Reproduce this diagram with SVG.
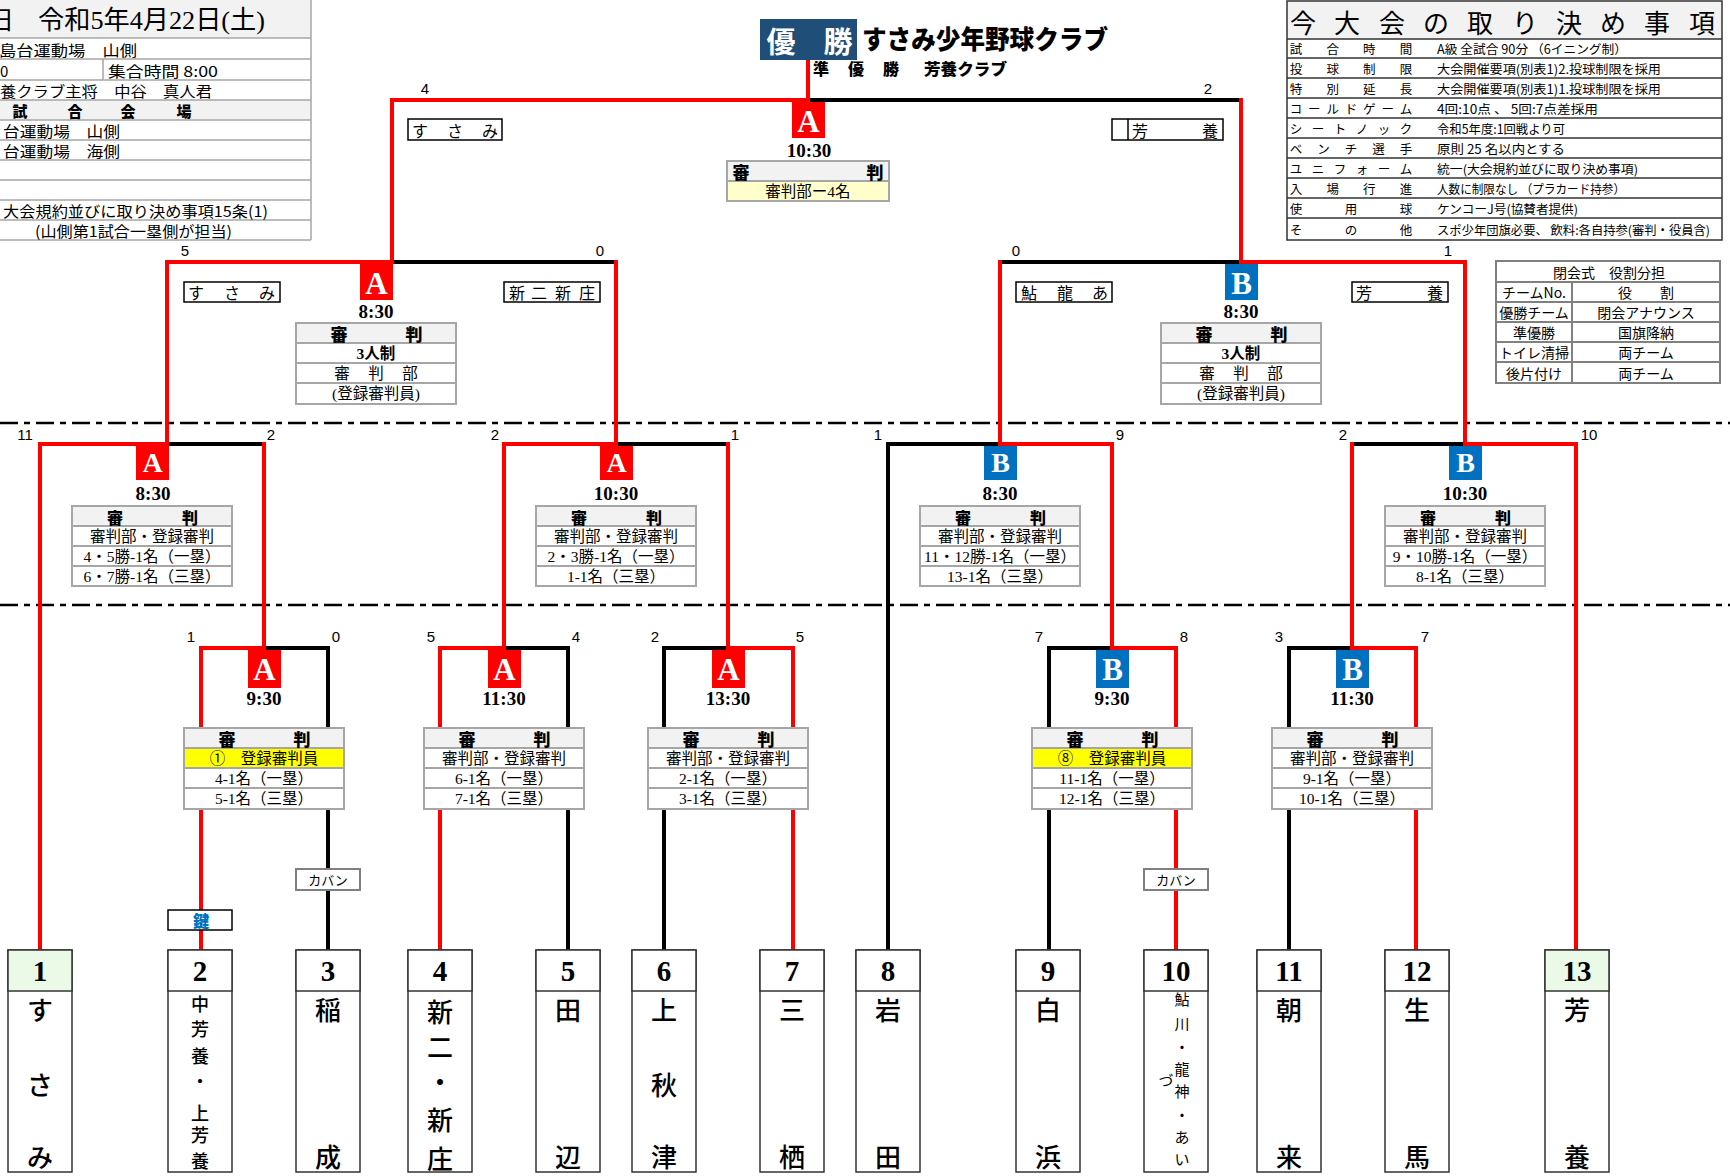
<svg xmlns="http://www.w3.org/2000/svg" width="1730" height="1176" viewBox="0 0 1730 1176">
<style>
.bg{fill:#fff}
.cr{fill:none;stroke:#ff0000;stroke-width:4;stroke-linecap:square;stroke-linejoin:miter}
.ck{fill:none;stroke:#000;stroke-width:4;stroke-linecap:square;stroke-linejoin:miter}
.dash{stroke:#000;stroke-width:2.5;stroke-dasharray:18 6 6 6}
.th{fill:#f2f2f2;stroke:#a6a6a6;stroke-width:2}
.td{fill:#fff;stroke:#a6a6a6;stroke-width:2}
.ty{fill:#ffff00;stroke:#a6a6a6;stroke-width:2}
.tl{fill:#ffffcc;stroke:#a6a6a6;stroke-width:2}
.rh{font-family:"Noto Sans CJK JP",sans-serif;font-weight:900;font-size:17px;text-anchor:middle;dominant-baseline:central}
.rq{font-family:"Noto Sans CJK JP",sans-serif;font-weight:900;font-size:16px;text-anchor:middle;dominant-baseline:central}
.rt{font-family:"Liberation Serif","Noto Sans CJK JP",serif;font-size:15.5px;text-anchor:middle;dominant-baseline:central}
.rb{font-family:"Liberation Serif","Noto Sans CJK JP",serif;font-size:15.5px;font-weight:700;text-anchor:middle;dominant-baseline:central}
.bA{fill:#ff0000}
.bB{fill:#0070c0}
.bl{font-family:"Liberation Serif",serif;font-weight:700;font-size:31px;fill:#fff;text-anchor:middle}
.bq{font-family:"Liberation Serif",serif;font-weight:700;font-size:28px;fill:#fff;text-anchor:middle}
.tm{font-family:"Liberation Serif",serif;font-weight:700;font-size:19px;text-anchor:middle}
.sc{font-family:"Liberation Sans",sans-serif;font-size:15px;text-anchor:middle}
.nb{fill:#fff;stroke:#000;stroke-width:1.5}
.nt{font-family:"Noto Sans CJK JP",sans-serif;font-size:16px;text-anchor:middle;dominant-baseline:central}
.tb{fill:#fff;stroke:#333;stroke-width:1.5}
.tg{fill:#ebfae6;stroke:#333;stroke-width:1.5}
.num{font-family:"Liberation Serif",serif;font-weight:700;font-size:29px;text-anchor:middle;dominant-baseline:central}
.nm{font-family:"Noto Sans CJK JP",sans-serif;font-size:26px;font-weight:500;text-anchor:middle;dominant-baseline:central}
.nms{font-family:"Noto Sans CJK JP",sans-serif;font-size:18px;font-weight:500;text-anchor:middle;dominant-baseline:central}
.nmx{font-family:"Noto Sans CJK JP",sans-serif;font-size:15px;text-anchor:middle;dominant-baseline:central}
.gl{stroke:#a6a6a6;stroke-width:1.5;fill:none}
.dl{stroke:#333;stroke-width:1.5;fill:none}
.it{font-family:"Noto Sans CJK JP",sans-serif;font-size:15px;dominant-baseline:central}
.vt{font-family:"Noto Sans CJK JP",sans-serif;font-size:12.5px;dominant-baseline:central}
.lt{font-family:"Noto Sans CJK JP",sans-serif;font-size:12.5px;text-anchor:middle;dominant-baseline:central}
.ct{font-family:"Noto Sans CJK JP",sans-serif;font-size:14px;text-anchor:middle;dominant-baseline:central}
.kb{fill:#fff;stroke:#808080;stroke-width:2}
.kt{font-family:"Noto Sans CJK JP",sans-serif;font-size:13px;text-anchor:middle;dominant-baseline:central}
</style>
<rect class="bg" x="0" y="0" width="1730" height="1176"/>

<g id="guides">
<line class="dash" x1="0" y1="423" x2="1730" y2="423"/>
<line class="dash" x1="0" y1="605" x2="1730" y2="605"/>
</g>

<g id="connectors">
<path class="ck" d="M808 100 H1241"/>
<path class="ck" d="M392 262 H616"/>
<path class="ck" d="M1000 262 H1241"/>
<path class="ck" d="M167 444 H264"/>
<path class="ck" d="M616 444 H728"/>
<path class="ck" d="M888 950 V444 H1000"/>
<path class="ck" d="M1352 444 H1465"/>
<path class="ck" d="M264 648 H328 V950"/>
<path class="ck" d="M504 648 H568 V950"/>
<path class="ck" d="M664 950 V648 H728"/>
<path class="ck" d="M1049 950 V648 H1112"/>
<path class="ck" d="M1289 950 V648 H1352"/>
<path class="cr" d="M808 60 V100"/>
<path class="cr" d="M392 262 V100 H808"/>
<path class="cr" d="M1241 100 V262"/>
<path class="cr" d="M167 444 V262 H392"/>
<path class="cr" d="M616 262 V444"/>
<path class="cr" d="M1000 444 V262"/>
<path class="cr" d="M1241 262 H1465 V444"/>
<path class="cr" d="M40 950 V444 H167"/>
<path class="cr" d="M264 444 V648"/>
<path class="cr" d="M504 648 V444 H616"/>
<path class="cr" d="M728 444 V648"/>
<path class="cr" d="M1000 444 H1112 V648"/>
<path class="cr" d="M1352 648 V444"/>
<path class="cr" d="M1465 444 H1576 V950"/>
<path class="cr" d="M201 950 V648 H264"/>
<path class="cr" d="M440 950 V648 H504"/>
<path class="cr" d="M728 648 H793 V950"/>
<path class="cr" d="M1112 648 H1176 V950"/>
<path class="cr" d="M1352 648 H1416 V950"/>
</g>

<g id="info-left">
<rect x="-2" y="0" width="313" height="38" fill="#f2f2f2"/>
<rect x="-2" y="100" width="313" height="20" fill="#f2f2f2"/>
<path class="gl" d="M0 38 H311 M0 59 H311 M0 80 H311 M0 100 H311 M0 120 H311 M0 140 H311 M0 160 H311 M0 180 H311 M0 200 H311 M0 220 H311 M0 240 H311 M311 0 V240 M103 59 V80"/>
<text x="-11" y="29" font-family="Liberation Serif,Noto Sans CJK JP,serif" font-size="25">日</text>
<text x="38" y="29" font-family="Liberation Serif,Noto Sans CJK JP,serif" font-size="26" textLength="227" lengthAdjust="spacingAndGlyphs">令和5年4月22日(土)</text>
<text class="it" x="-1" y="49" textLength="138" lengthAdjust="spacingAndGlyphs">島台運動場　山側</text>
<text class="it" x="0" y="70">0</text>
<text class="it" x="108" y="70" textLength="110" lengthAdjust="spacingAndGlyphs">集合時間 8:00</text>
<text class="it" x="0" y="90" textLength="212" lengthAdjust="spacingAndGlyphs">養クラブ主将　中谷　真人君</text>
<text class="it" x="20 75 128 184" y="110" font-weight="900" text-anchor="middle">試合会場</text>
<text class="it" x="3" y="130" textLength="117" lengthAdjust="spacingAndGlyphs">台運動場　山側</text>
<text class="it" x="3" y="150" textLength="117" lengthAdjust="spacingAndGlyphs">台運動場　海側</text>
<text class="it" x="3" y="210" font-size="14" textLength="265" lengthAdjust="spacingAndGlyphs">大会規約並びに取り決め事項15条(1)</text>
<text class="it" x="35" y="230" font-size="14" textLength="197" lengthAdjust="spacingAndGlyphs">(山側第1試合一塁側が担当)</text>
</g>

<g id="champion">
<rect x="760" y="19" width="97" height="41" fill="#1f4e79"/>
<text x="781 838" y="40" font-family="Noto Sans CJK JP,sans-serif" font-weight="700" font-size="29" fill="#fff" text-anchor="middle" dominant-baseline="central">優勝</text>
<text x="862" y="37" font-family="Noto Sans CJK JP,sans-serif" font-weight="900" font-size="26" dominant-baseline="central" textLength="246" lengthAdjust="spacingAndGlyphs">すさみ少年野球クラブ</text>
<text x="821 856 891" y="68" font-family="Noto Sans CJK JP,sans-serif" font-weight="900" font-size="16" text-anchor="middle" dominant-baseline="central">準優勝</text>
<text x="924" y="68" font-family="Noto Sans CJK JP,sans-serif" font-weight="900" font-size="16" dominant-baseline="central" textLength="83" lengthAdjust="spacingAndGlyphs">芳養クラブ</text>
</g>

<g id="rules">
<rect x="1287" y="1" width="435" height="38" fill="#f2f2f2"/>
<rect x="1287" y="1" width="435" height="239" fill="none" stroke="#333" stroke-width="1.5"/>
<path class="dl" d="M1287 39 H1722 M1287 58 H1722 M1287 78 H1722 M1287 98 H1722 M1287 118 H1722 M1287 138 H1722 M1287 158 H1722 M1287 178 H1722 M1287 198 H1722 M1287 218 H1722"/>
<text x="1303 1347 1392 1436 1480 1525 1569 1613 1657 1702" y="21" font-family="Noto Sans CJK JP,serif" font-size="26" text-anchor="middle" dominant-baseline="central">今大会の取り決め事項</text>
<text class="lt" x="1296 1332.7 1369.3 1406" y="48.5">試合時間</text>
<text class="lt" x="1296 1332.7 1369.3 1406" y="68">投球制限</text>
<text class="lt" x="1296 1332.7 1369.3 1406" y="88">特別延長</text>
<text class="lt" x="1296 1314.3 1332.7 1351 1369.3 1387.7 1406" y="108">コールドゲーム</text>
<text class="lt" x="1296 1318 1340 1362 1384 1406" y="128">シートノック</text>
<text class="lt" x="1296 1323.5 1351 1378.5 1406" y="148">ベンチ選手</text>
<text class="lt" x="1296 1318 1340 1362 1384 1406" y="168">ユニフォーム</text>
<text class="lt" x="1296 1332.7 1369.3 1406" y="188">入場行進</text>
<text class="lt" x="1296 1351 1406" y="208">使用球</text>
<text class="lt" x="1296 1351 1406" y="229">その他</text>
<text class="vt" x="1437" y="48.5" textLength="190" lengthAdjust="spacingAndGlyphs">A級  全試合  90分 （6イニング制）</text>
<text class="vt" x="1437" y="68" textLength="224" lengthAdjust="spacingAndGlyphs">大会開催要項(別表1)2.投球制限を採用</text>
<text class="vt" x="1437" y="88" textLength="224" lengthAdjust="spacingAndGlyphs">大会開催要項(別表1)1.投球制限を採用</text>
<text class="vt" x="1437" y="108" textLength="161" lengthAdjust="spacingAndGlyphs">4回:10点 、 5回:7点差採用</text>
<text class="vt" x="1437" y="128" textLength="128" lengthAdjust="spacingAndGlyphs">令和5年度:1回戦より可</text>
<text class="vt" x="1437" y="148" textLength="128" lengthAdjust="spacingAndGlyphs">原則  25  名以内とする</text>
<text class="vt" x="1437" y="168" textLength="201" lengthAdjust="spacingAndGlyphs">統一(大会規約並びに取り決め事項)</text>
<text class="vt" x="1437" y="188" textLength="188" lengthAdjust="spacingAndGlyphs">人数に制限なし （プラカード持参）</text>
<text class="vt" x="1437" y="208" textLength="141" lengthAdjust="spacingAndGlyphs">ケンコーJ号(協賛者提供)</text>
<text class="vt" x="1437" y="229" textLength="273" lengthAdjust="spacingAndGlyphs">スポ少年団旗必要、  飲料:各自持参(審判・役員含)</text>
</g>

<g id="closing">
<rect x="1496" y="261" width="224" height="122" fill="#fff" stroke="#808080" stroke-width="2"/>
<path d="M1496 282 H1720 M1496 302 H1720 M1496 322 H1720 M1496 342 H1720 M1496 362 H1720 M1572 282 V383" stroke="#808080" stroke-width="2" fill="none"/>
<text class="ct" x="1609" y="271.5" font-size="15">閉会式　役割分担</text>
<text class="ct" x="1534" y="292">チームNo.</text>
<text class="ct" x="1646" y="292">役　　割</text>
<text class="ct" x="1534" y="312">優勝チーム</text>
<text class="ct" x="1646" y="312">閉会アナウンス</text>
<text class="ct" x="1534" y="332">準優勝</text>
<text class="ct" x="1646" y="332">国旗降納</text>
<text class="ct" x="1534" y="352">トイレ清掃</text>
<text class="ct" x="1646" y="352">両チーム</text>
<text class="ct" x="1534" y="372.5">後片付け</text>
<text class="ct" x="1646" y="372.5">両チーム</text>
</g>

<g id="scores">
<text class="sc" x="425" y="94">4</text>
<text class="sc" x="1208" y="94">2</text>
<text class="sc" x="185" y="256">5</text>
<text class="sc" x="600" y="256">0</text>
<text class="sc" x="1016" y="256">0</text>
<text class="sc" x="1448" y="256">1</text>
<text class="sc" x="25" y="440">11</text>
<text class="sc" x="271" y="440">2</text>
<text class="sc" x="495" y="440">2</text>
<text class="sc" x="735" y="440">1</text>
<text class="sc" x="878" y="440">1</text>
<text class="sc" x="1120" y="440">9</text>
<text class="sc" x="1343" y="440">2</text>
<text class="sc" x="1589" y="440">10</text>
<text class="sc" x="191" y="642">1</text>
<text class="sc" x="336" y="642">0</text>
<text class="sc" x="431" y="642">5</text>
<text class="sc" x="576" y="642">4</text>
<text class="sc" x="655" y="642">2</text>
<text class="sc" x="800" y="642">5</text>
<text class="sc" x="1039" y="642">7</text>
<text class="sc" x="1184" y="642">8</text>
<text class="sc" x="1279" y="642">3</text>
<text class="sc" x="1425" y="642">7</text>
</g>

<g id="final">
<rect class="bA" x="792" y="102" width="33" height="36"/>
<text class="bl" x="808.5" y="132">A</text>
<text class="tm" x="809" y="157">10:30</text>
<rect class="th" x="727" y="161" width="162" height="20"/>
<rect class="tl" x="727" y="181" width="162" height="20"/>
<text class="rh" x="741 875" y="171">審判</text>
<text class="rt" x="808" y="191">審判部ー4名</text>
<rect class="nb" x="408" y="119" width="94" height="21"/>
<text class="nt" x="420 455 490" y="130">すさみ</text>
<rect class="nb" x="1112" y="119" width="111" height="21"/>
<line x1="1128" y1="119" x2="1128" y2="140" stroke="#000" stroke-width="1.5"/>
<text class="nt" x="1140 1210" y="130">芳養</text>
</g>

<g id="semi-left">
<rect class="bA" x="360" y="264" width="33" height="36"/>
<text class="bl" x="376.5" y="294">A</text>
<text class="tm" x="376" y="318">8:30</text>
<rect class="th" x="296" y="323" width="160" height="20"/>
<rect class="td" x="296" y="343" width="160" height="20"/>
<rect class="td" x="296" y="363" width="160" height="20"/>
<rect class="td" x="296" y="383" width="160" height="21"/>
<text class="rh" x="339 414" y="333">審判</text>
<text class="rb" x="376" y="353">3人制</text>
<text class="rt" x="342 376 410" y="373">審判部</text>
<text class="rt" x="376" y="393.5">(登録審判員)</text>
<rect class="nb" x="184" y="282" width="96" height="20"/>
<text class="nt" x="196 232 267" y="292">すさみ</text>
<rect class="nb" x="504" y="282" width="96" height="20"/>
<text class="nt" x="517 539 563 587" y="292">新二新庄</text>
</g>

<g id="semi-right">
<rect class="bB" x="1225" y="264" width="33" height="36"/>
<text class="bl" x="1241.5" y="294">B</text>
<text class="tm" x="1241" y="318">8:30</text>
<rect class="th" x="1161" y="323" width="160" height="20"/>
<rect class="td" x="1161" y="343" width="160" height="20"/>
<rect class="td" x="1161" y="363" width="160" height="20"/>
<rect class="td" x="1161" y="383" width="160" height="21"/>
<text class="rh" x="1204 1279" y="333">審判</text>
<text class="rb" x="1241" y="353">3人制</text>
<text class="rt" x="1207 1241 1275" y="373">審判部</text>
<text class="rt" x="1241" y="393.5">(登録審判員)</text>
<rect class="nb" x="1016" y="282" width="96" height="20"/>
<text class="nt" x="1029 1065 1100" y="292">鮎龍あ</text>
<rect class="nb" x="1352" y="282" width="96" height="20"/>
<text class="nt" x="1364 1435" y="292">芳養</text>
</g>

<g id="qf1">
<rect class="bA" x="136" y="446" width="33" height="34"/>
<text class="bq" x="152.5" y="472">A</text>
<text class="tm" x="153" y="500">8:30</text>
<rect class="th" x="72" y="506" width="160" height="20"/>
<rect class="td" x="72" y="526" width="160" height="20"/>
<rect class="td" x="72" y="546" width="160" height="20"/>
<rect class="td" x="72" y="566" width="160" height="20"/>
<text class="rq" x="115 190" y="517">審判</text>
<text class="rt" x="152" y="536">審判部・登録審判</text>
<text class="rt" x="152" y="556">4・5勝-1名（一塁）</text>
<text class="rt" x="152" y="576">6・7勝-1名（三塁）</text>
</g>

<g id="qf2">
<rect class="bA" x="600" y="446" width="33" height="34"/>
<text class="bq" x="616.5" y="472">A</text>
<text class="tm" x="616" y="500">10:30</text>
<rect class="th" x="536" y="506" width="160" height="20"/>
<rect class="td" x="536" y="526" width="160" height="20"/>
<rect class="td" x="536" y="546" width="160" height="20"/>
<rect class="td" x="536" y="566" width="160" height="20"/>
<text class="rq" x="579 654" y="517">審判</text>
<text class="rt" x="616" y="536">審判部・登録審判</text>
<text class="rt" x="616" y="556">2・3勝-1名（一塁）</text>
<text class="rt" x="616" y="576">1-1名（三塁）</text>
</g>

<g id="qf3">
<rect class="bB" x="984" y="446" width="33" height="34"/>
<text class="bq" x="1000.5" y="472">B</text>
<text class="tm" x="1000" y="500">8:30</text>
<rect class="th" x="920" y="506" width="160" height="20"/>
<rect class="td" x="920" y="526" width="160" height="20"/>
<rect class="td" x="920" y="546" width="160" height="20"/>
<rect class="td" x="920" y="566" width="160" height="20"/>
<text class="rq" x="963 1038" y="517">審判</text>
<text class="rt" x="1000" y="536">審判部・登録審判</text>
<text class="rt" x="1000" y="556">11・12勝-1名（一塁）</text>
<text class="rt" x="1000" y="576">13-1名（三塁）</text>
</g>

<g id="qf4">
<rect class="bB" x="1449" y="446" width="33" height="34"/>
<text class="bq" x="1465.5" y="472">B</text>
<text class="tm" x="1465" y="500">10:30</text>
<rect class="th" x="1385" y="506" width="160" height="20"/>
<rect class="td" x="1385" y="526" width="160" height="20"/>
<rect class="td" x="1385" y="546" width="160" height="20"/>
<rect class="td" x="1385" y="566" width="160" height="20"/>
<text class="rq" x="1428 1503" y="517">審判</text>
<text class="rt" x="1465" y="536">審判部・登録審判</text>
<text class="rt" x="1465" y="556">9・10勝-1名（一塁）</text>
<text class="rt" x="1465" y="576">8-1名（三塁）</text>
</g>

<g id="r1-1">
<rect class="bA" x="248" y="650" width="33" height="38"/>
<text class="bl" x="264.5" y="680">A</text>
<text class="tm" x="264" y="705">9:30</text>
<rect class="th" x="184" y="728" width="160" height="20"/>
<rect class="ty" x="184" y="748" width="160" height="20"/>
<rect class="td" x="184" y="768" width="160" height="20"/>
<rect class="td" x="184" y="788" width="160" height="21"/>
<text class="rh" x="227 302" y="738">審判</text>
<text class="rt" x="264" y="758">①　登録審判員</text>
<text class="rt" x="264" y="778">4-1名（一塁）</text>
<text class="rt" x="264" y="798.5">5-1名（三塁）</text>
<rect class="kb" x="296" y="869" width="64" height="21"/>
<text class="kt" x="328" y="879.5">カバン</text>
<rect x="168" y="910" width="64" height="20" fill="#fff" stroke="#000" stroke-width="1.5"/>
<text x="201" y="920" font-family="Noto Sans CJK JP,sans-serif" font-weight="900" font-size="16" fill="#0070c0" text-anchor="middle" dominant-baseline="central">鍵</text>
</g>

<g id="r1-2">
<rect class="bA" x="488" y="650" width="33" height="38"/>
<text class="bl" x="504.5" y="680">A</text>
<text class="tm" x="504" y="705">11:30</text>
<rect class="th" x="424" y="728" width="160" height="20"/>
<rect class="td" x="424" y="748" width="160" height="20"/>
<rect class="td" x="424" y="768" width="160" height="20"/>
<rect class="td" x="424" y="788" width="160" height="21"/>
<text class="rh" x="467 542" y="738">審判</text>
<text class="rt" x="504" y="758">審判部・登録審判</text>
<text class="rt" x="504" y="778">6-1名（一塁）</text>
<text class="rt" x="504" y="798.5">7-1名（三塁）</text>
</g>

<g id="r1-3">
<rect class="bA" x="712" y="650" width="33" height="38"/>
<text class="bl" x="728.5" y="680">A</text>
<text class="tm" x="728" y="705">13:30</text>
<rect class="th" x="648" y="728" width="160" height="20"/>
<rect class="td" x="648" y="748" width="160" height="20"/>
<rect class="td" x="648" y="768" width="160" height="20"/>
<rect class="td" x="648" y="788" width="160" height="21"/>
<text class="rh" x="691 766" y="738">審判</text>
<text class="rt" x="728" y="758">審判部・登録審判</text>
<text class="rt" x="728" y="778">2-1名（一塁）</text>
<text class="rt" x="728" y="798.5">3-1名（三塁）</text>
</g>

<g id="r1-4">
<rect class="bB" x="1096" y="650" width="33" height="38"/>
<text class="bl" x="1112.5" y="680">B</text>
<text class="tm" x="1112" y="705">9:30</text>
<rect class="th" x="1032" y="728" width="160" height="20"/>
<rect class="ty" x="1032" y="748" width="160" height="20"/>
<rect class="td" x="1032" y="768" width="160" height="20"/>
<rect class="td" x="1032" y="788" width="160" height="21"/>
<text class="rh" x="1075 1150" y="738">審判</text>
<text class="rt" x="1112" y="758">⑧　登録審判員</text>
<text class="rt" x="1112" y="778">11-1名（一塁）</text>
<text class="rt" x="1112" y="798.5">12-1名（三塁）</text>
<rect class="kb" x="1144" y="869" width="64" height="21"/>
<text class="kt" x="1176" y="879.5">カバン</text>
</g>

<g id="r1-5">
<rect class="bB" x="1336" y="650" width="33" height="38"/>
<text class="bl" x="1352.5" y="680">B</text>
<text class="tm" x="1352" y="705">11:30</text>
<rect class="th" x="1272" y="728" width="160" height="20"/>
<rect class="td" x="1272" y="748" width="160" height="20"/>
<rect class="td" x="1272" y="768" width="160" height="20"/>
<rect class="td" x="1272" y="788" width="160" height="21"/>
<text class="rh" x="1315 1390" y="738">審判</text>
<text class="rt" x="1352" y="758">審判部・登録審判</text>
<text class="rt" x="1352" y="778">9-1名（一塁）</text>
<text class="rt" x="1352" y="798.5">10-1名（三塁）</text>
</g>

<g id="team-1">
<rect class="tb" x="8" y="950" width="64" height="222"/>
<rect class="tg" x="8" y="950" width="64" height="41"/>
<text class="num" x="40" y="971">1</text>
<text class="nm" x="40 40 40" y="1008 1083 1155">すさみ</text>
</g>
<g id="team-2">
<rect class="tb" x="168" y="950" width="64" height="222"/>
<rect class="tb" x="168" y="950" width="64" height="41"/>
<text class="num" x="200" y="971">2</text>
<text class="nms" x="200 200 200 200 200 200 200" y="1003 1028 1055 1080 1112 1134 1160">中芳養・上芳養</text>
</g>
<g id="team-3">
<rect class="tb" x="296" y="950" width="64" height="222"/>
<rect class="tb" x="296" y="950" width="64" height="41"/>
<text class="num" x="328" y="971">3</text>
<text class="nm" x="328 328" y="1008 1155">稲成</text>
</g>
<g id="team-4">
<rect class="tb" x="408" y="950" width="64" height="222"/>
<rect class="tb" x="408" y="950" width="64" height="41"/>
<text class="num" x="440" y="971">4</text>
<text class="nm" x="440 440 440 440 440" y="1010 1045 1080 1118 1157">新二・新庄</text>
</g>
<g id="team-5">
<rect class="tb" x="536" y="950" width="64" height="222"/>
<rect class="tb" x="536" y="950" width="64" height="41"/>
<text class="num" x="568" y="971">5</text>
<text class="nm" x="568 568" y="1008 1155">田辺</text>
</g>
<g id="team-6">
<rect class="tb" x="632" y="950" width="64" height="222"/>
<rect class="tb" x="632" y="950" width="64" height="41"/>
<text class="num" x="664" y="971">6</text>
<text class="nm" x="664 664 664" y="1008 1083 1155">上秋津</text>
</g>
<g id="team-7">
<rect class="tb" x="760" y="950" width="64" height="222"/>
<rect class="tb" x="760" y="950" width="64" height="41"/>
<text class="num" x="792" y="971">7</text>
<text class="nm" x="792 792" y="1008 1155">三栖</text>
</g>
<g id="team-8">
<rect class="tb" x="856" y="950" width="64" height="222"/>
<rect class="tb" x="856" y="950" width="64" height="41"/>
<text class="num" x="888" y="971">8</text>
<text class="nm" x="888 888" y="1008 1155">岩田</text>
</g>
<g id="team-9">
<rect class="tb" x="1016" y="950" width="64" height="222"/>
<rect class="tb" x="1016" y="950" width="64" height="41"/>
<text class="num" x="1048" y="971">9</text>
<text class="nm" x="1048 1048" y="1008 1155">白浜</text>
</g>
<g id="team-10">
<rect class="tb" x="1144" y="950" width="64" height="222"/>
<rect class="tb" x="1144" y="950" width="64" height="41"/>
<text class="num" x="1176" y="971">10</text>
<text class="nmx" x="1182 1182 1182 1182 1182 1182 1182 1182" y="998 1023 1046 1068 1090 1114 1136 1158">鮎川・龍神・あい</text>
<text class="nmx" x="1166" y="1079">づ</text>
</g>
<g id="team-11">
<rect class="tb" x="1257" y="950" width="64" height="222"/>
<rect class="tb" x="1257" y="950" width="64" height="41"/>
<text class="num" x="1289" y="971">11</text>
<text class="nm" x="1289 1289" y="1008 1155">朝来</text>
</g>
<g id="team-12">
<rect class="tb" x="1385" y="950" width="64" height="222"/>
<rect class="tb" x="1385" y="950" width="64" height="41"/>
<text class="num" x="1417" y="971">12</text>
<text class="nm" x="1417 1417" y="1008 1155">生馬</text>
</g>
<g id="team-13">
<rect class="tb" x="1545" y="950" width="64" height="222"/>
<rect class="tg" x="1545" y="950" width="64" height="41"/>
<text class="num" x="1577" y="971">13</text>
<text class="nm" x="1577 1577" y="1008 1155">芳養</text>
</g>
</svg>
